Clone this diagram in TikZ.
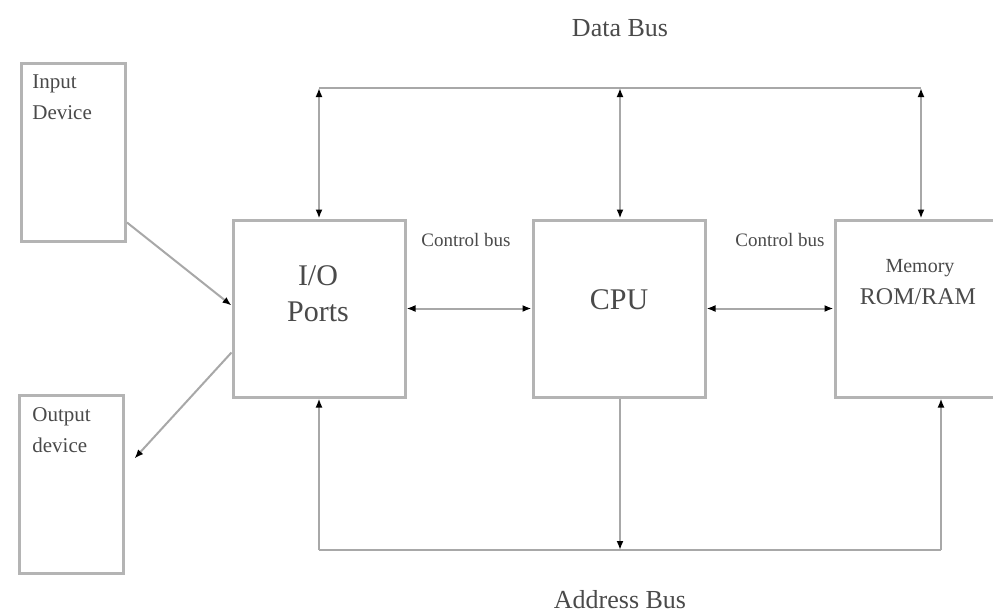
\documentclass[tikz,border=0pt]{standalone}
\usepackage{fontspec}
\setmainfont{Liberation Serif}
\usetikzlibrary{arrows.meta,positioning}
\definecolor{boxgray}{HTML}{B4B4B4}
\definecolor{linegray}{HTML}{A8A8A8}
\definecolor{textgray}{HTML}{4A4A4A}
\begin{document}
\begin{tikzpicture}[x=0.5pt,y=-0.5pt,
    unit/.style={draw=boxgray,line width=1.5pt,minimum width=86pt,minimum height=88.5pt,inner sep=0pt},
    dev/.style={draw=boxgray,line width=1.5pt,minimum width=52pt,minimum height=89pt,inner sep=0pt},
    bus/.style={draw=linegray,line width=1pt},
    >={Latex[length=4.5pt,width=3.5pt,color=black]},
    title/.style={text=textgray,font=\fontsize{13}{15}\selectfont},
    big/.style={text=textgray,align=center,font=\fontsize{15}{18}\selectfont},
    small/.style={text=textgray,font=\fontsize{9.5}{11}\selectfont},
    devtext/.style={text=textgray,align=left,anchor=north west,inner sep=0pt,font=\fontsize{10.5}{15.5}\selectfont}]
  \clip (0,0) rectangle (993,612);
  \fill[white] (0,0) rectangle (993,612);
  % blocks
  \node[dev] (indev) at (73.5,152.5) {};
  \node[dev] (outdev) at (71,484.5) {};
  \node[unit] (io) at (319,308.5) {};
  \node[unit] (cpu) at (619,308.5) {};
  \node[unit] (mem) at (921,308.5) {};
  % texts
  \node[devtext] (intext) at (32,74) {Input\\Device};
  \node[devtext] (outtext) at (32,407) {Output\\device};
  \node[big] (iotext) at (318,294) {I/O\\Ports};
  \node[big] (cputext) at (619,300) {CPU};
  \node[text=textgray,font=\fontsize{10}{12}\selectfont] (memtext) at (920,268) {Memory};
  \node[text=textgray,font=\fontsize{12}{14}\selectfont] (ramtext) at (918,297) {ROM/RAM};
  \node[small] (cb1) at (466,240) {Control bus};
  \node[small] (cb2) at (780,240) {Control bus};
  \node[title] (dbus) at (620,28) {Data Bus};
  \node[title] (abus) at (620,600) {Address Bus};
  % data bus
  \coordinate (db1) at (319,88);
  \coordinate (db2) at (620,88);
  \coordinate (db3) at (921,88);
  \draw[bus] (db1) -- (db3);
  \draw[bus,<->] (db1) -- (io.north);
  \draw[bus,<->] (db2) -- (db2 |- cpu.north);
  \draw[bus,<->] (db3) -- (mem.north);
  % address bus
  \coordinate (ab1) at (319,550);
  \coordinate (ab2) at (620,550);
  \coordinate (ab3) at (941,550);
  \draw[bus] (ab1) -- (ab3);
  \draw[bus,->] (ab1) -- (io.south);
  \draw[bus,->] (ab2 |- cpu.south) -- (ab2);
  \draw[bus,->] (ab3) -- (ab3 |- mem.south);
  % control bus
  \draw[bus,<->] (io.east) -- (cpu.west);
  \draw[bus,<->] (cpu.east) -- (mem.west);
  % devices
  \draw[bus,->] ([yshift=-35pt]indev.east) -- ([yshift=1.5pt]io.west);
  \draw[bus,->] ([yshift=-22pt]io.west) -- ([xshift=5pt,yshift=13pt]outdev.east);
\end{tikzpicture}
\end{document}
